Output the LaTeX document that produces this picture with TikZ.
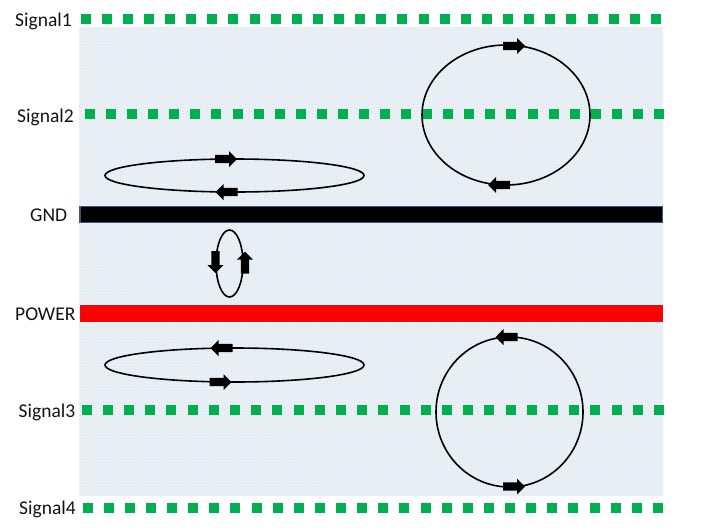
\documentclass[tikz,border=0pt]{standalone}
\usepackage{fontspec}
\setmainfont{Carlito}
\usetikzlibrary{patterns}
\definecolor{sigg}{RGB}{0,176,80}
\definecolor{bgc}{RGB}{234,241,246}
\definecolor{dotc}{RGB}{196,211,224}
\definecolor{gndedge}{RGB}{60,85,120}
\definecolor{pwr}{RGB}{255,0,0}
\definecolor{pwredge}{RGB}{215,20,20}
\definecolor{labc}{RGB}{20,20,20}
\begin{document}
\begin{tikzpicture}[x=1pt,y=-1pt,
  lab/.style={anchor=base west,inner sep=0pt,font=\fontsize{19.5}{20}\selectfont,text=labc},
  sq/.style={fill=sigg},
  loopline/.style={draw=black,line width=1.6pt},
  pics/blk/.style={code={\fill[black] (-11,-4.2) -- (3,-4.2) -- (3,-8) -- (11,0) -- (3,8) -- (3,4.2) -- (-11,4.2) -- cycle;}}]
\useasboundingbox (0,0) rectangle (703,531);
\fill[white] (0,0) rectangle (703,531);
% background board
\fill[bgc] (79,27) rectangle (663,496);
\fill[pattern=dots,pattern color=dotc] (79,27) rectangle (663,496);
% signal layers
\foreach \yy/\aa/\bb in {18.5/80.5/651, 113.5/85/654, 410/81.5/654, 508/82.5/653}{
  \foreach \i in {0,...,27}{
    \pgfmathsetmacro\xx{\aa+\i*(\bb-\aa)/27}
    \fill[sq] (\xx,\yy-5) rectangle ++(10,10);
  }
}
% planes
\draw[draw=gndedge,line width=1.2pt,fill=black] (80,206.5) rectangle (662.5,222.5);
\draw[draw=pwredge,line width=1pt,fill=pwr] (80,305.5) rectangle (662.5,321.5);
% labels
\node[lab] (s1) at (15,26.5) {Signal1};
\node[lab] (s2) at (17,122.5) {Signal2};
\node[lab] (gnd) at (30,221.5) {GND};
\node[lab] (pw) at (15,320) {POWER};
\node[lab] (s3) at (18.5,417.5) {Signal3};
\node[lab] (s4) at (19,514) {Signal4};
% current loops
\draw[loopline] (234.5,175.5) ellipse [x radius=129.5pt, y radius=16.5pt];
\draw[loopline] (229.5,263.5) ellipse [x radius=13.5pt, y radius=33.5pt];
\draw[loopline] (234.5,365) ellipse [x radius=129.5pt, y radius=17pt];
\draw[loopline] (506,115) ellipse [x radius=84pt, y radius=70pt];
\draw[loopline] (509.5,412) ellipse [x radius=73.5pt, y radius=75pt];
% arrows
\pic[rotate=0] at (226,159) {blk};
\pic[rotate=180] at (226.5,192) {blk};
\pic[rotate=-90] at (215.5,262) {blk};
\pic[rotate=90] at (245,262.5) {blk};
\pic[rotate=180] at (221.5,348) {blk};
\pic[rotate=0] at (220.5,382) {blk};
\pic[rotate=0] at (514,46) {blk};
\pic[rotate=180] at (499,185) {blk};
\pic[rotate=180] at (506.5,337) {blk};
\pic[rotate=0] at (514,486.5) {blk};
\end{tikzpicture}
\end{document}
